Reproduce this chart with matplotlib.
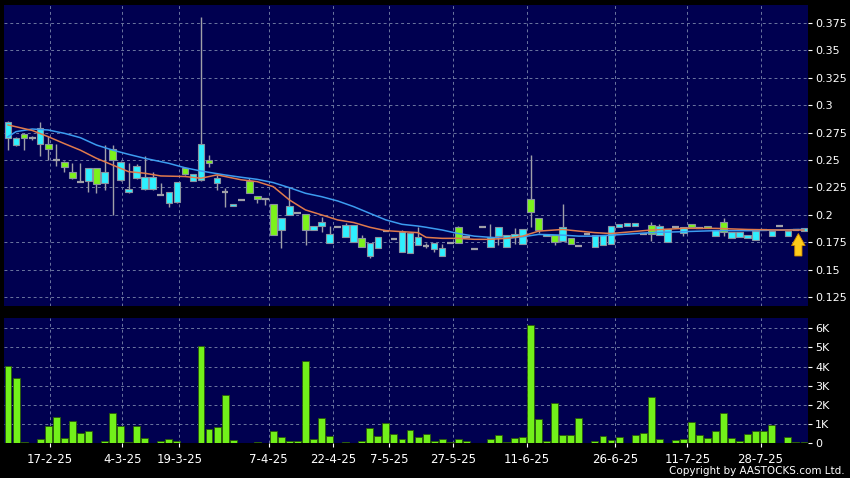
import numpy as np
import matplotlib
matplotlib.use("Agg")
import matplotlib.pyplot as plt
from matplotlib.patches import FancyArrow

# Datos (precio y volumen diario)
opens = [0.285, 0.270, 0.270, 0.270, 0.2795, 0.260, 0.250, 0.244, 0.234, 0.230,
         0.2425, 0.228, 0.239, 0.250, 0.2485, 0.2236, 0.245, 0.2343, 0.2343, 0.218,
         0.221, 0.2296, 0.237, 0.237, 0.2645, 0.2475, 0.2334, 0.2205, 0.2096, 0.2136,
         0.2197, 0.2142, 0.2142, 0.1817, 0.197, 0.2083, 0.2014, 0.1862, 0.1895, 0.1937,
         0.1828, 0.1887, 0.1907, 0.1907, 0.171, 0.1748, 0.1795, 0.1856, 0.1777, 0.1842,
         0.1838, 0.1795, 0.172, 0.1748, 0.1695, 0.174, 0.1747, 0.1795, 0.1692, 0.1887,
         0.1795, 0.1887, 0.1815, 0.183, 0.1867, 0.2023, 0.1863, 0.183, 0.1755, 0.1893,
         0.1733, 0.1717, 0.183, 0.182, 0.1815, 0.1902, 0.1917, 0.1923, 0.1923, 0.183,
         0.1822, 0.1898, 0.1867, 0.1887, 0.1893, 0.1893, 0.1877, 0.1877, 0.1862, 0.184,
         0.1846, 0.1846, 0.1815, 0.1855, 0.186, 0.1855, 0.1902, 0.1855, 0.186, 0.188]
closes = [0.270, 0.264, 0.274, 0.270, 0.2645, 0.2645, 0.250, 0.2485, 0.239, 0.230,
          0.2305, 0.2425, 0.229, 0.260, 0.232, 0.2206, 0.2334, 0.2236, 0.2236, 0.218,
          0.2106, 0.2115, 0.243, 0.2305, 0.232, 0.250, 0.2295, 0.2205, 0.208, 0.2136,
          0.2312, 0.2175, 0.2142, 0.2096, 0.1862, 0.1999, 0.2014, 0.2005, 0.1862, 0.1898,
          0.1745, 0.1887, 0.1795, 0.1755, 0.1789, 0.1625, 0.1695, 0.1856, 0.1777, 0.166,
          0.1656, 0.1725, 0.172, 0.1686, 0.1625, 0.174, 0.1887, 0.1795, 0.1692, 0.1887,
          0.1703, 0.1806, 0.1703, 0.1795, 0.1733, 0.2142, 0.1976, 0.1806, 0.1815, 0.1765,
          0.1791, 0.1717, 0.183, 0.1705, 0.1724, 0.1733, 0.1887, 0.1898, 0.1898, 0.183,
          0.1907, 0.1815, 0.1755, 0.1887, 0.1838, 0.1914, 0.1877, 0.1902, 0.1806, 0.1937,
          0.1789, 0.1794, 0.1789, 0.177, 0.186, 0.1806, 0.1902, 0.1806, 0.186, 0.1855]
highs = [0.286, 0.271, 0.275, 0.272, 0.285, 0.272, 0.265, 0.249, 0.247, 0.247,
         0.243, 0.243, 0.264, 0.264, 0.249, 0.247, 0.246, 0.254, 0.239, 0.229,
         0.221, 0.230, 0.244, 0.237, 0.3805, 0.2546, 0.236, 0.2242, 0.2096, 0.2136,
         0.2334, 0.2175, 0.2142, 0.2096, 0.197, 0.225, 0.2014, 0.2005, 0.1895, 0.1977,
         0.1895, 0.1887, 0.1922, 0.1907, 0.1815, 0.1748, 0.1795, 0.1856, 0.1777, 0.1862,
         0.1838, 0.189, 0.1748, 0.1748, 0.1735, 0.174, 0.1895, 0.1795, 0.1692, 0.1887,
         0.1913, 0.1887, 0.1815, 0.1883, 0.1867, 0.2546, 0.1976, 0.183, 0.1815, 0.2095,
         0.1791, 0.1717, 0.183, 0.182, 0.1815, 0.1902, 0.1917, 0.1923, 0.1923, 0.183,
         0.1935, 0.192, 0.1867, 0.1887, 0.1893, 0.1914, 0.1877, 0.1902, 0.1862, 0.1976,
         0.1846, 0.1846, 0.1815, 0.1855, 0.186, 0.1855, 0.1902, 0.1855, 0.186, 0.188]
lows = [0.259, 0.263, 0.259, 0.268, 0.254, 0.250, 0.245, 0.239, 0.233, 0.230,
        0.221, 0.220, 0.2227, 0.200, 0.231, 0.220, 0.233, 0.223, 0.223, 0.218,
        0.2075, 0.211, 0.236, 0.2305, 0.231, 0.2439, 0.2227, 0.2075, 0.208, 0.2136,
        0.2197, 0.211, 0.209, 0.1817, 0.1695, 0.1999, 0.2014, 0.1725, 0.1862, 0.1846,
        0.1745, 0.1887, 0.1795, 0.1755, 0.171, 0.1604, 0.1695, 0.1856, 0.1777, 0.166,
        0.1656, 0.1725, 0.170, 0.1665, 0.1625, 0.174, 0.1747, 0.1795, 0.1692, 0.1887,
        0.1703, 0.1727, 0.1703, 0.1733, 0.1733, 0.189, 0.1835, 0.1806, 0.1722, 0.1765,
        0.1733, 0.1717, 0.183, 0.1705, 0.1724, 0.1733, 0.1887, 0.1898, 0.1898, 0.183,
        0.1762, 0.1815, 0.1755, 0.1887, 0.181, 0.1893, 0.1877, 0.1877, 0.1806, 0.181,
        0.1789, 0.1794, 0.1789, 0.177, 0.186, 0.1806, 0.1902, 0.1806, 0.186, 0.1855]
volumen_k = [4.05, 3.39, 0.05, 0.0, 0.2, 0.92, 1.36, 0.26, 1.17, 0.56,
             0.64, 0.0, 0.12, 1.58, 0.9, 0.05, 0.9, 0.3, 0.03, 0.1,
             0.23, 0.12, 0.0, 0.0, 5.06, 0.75, 0.87, 2.52, 0.17, 0.0,
             0.0, 0.05, 0.0, 0.66, 0.33, 0.14, 0.13, 4.3, 0.23, 1.3,
             0.38, 0.0, 0.05, 0.0, 0.14, 0.78, 0.4, 1.06, 0.49, 0.23,
             0.7, 0.31, 0.47, 0.12, 0.24, 0.09, 0.23, 0.1, 0.0, 0.0,
             0.24, 0.43, 0.05, 0.26, 0.35, 6.16, 1.25, 0.1, 2.09, 0.43,
             0.43, 1.3, 0.0, 0.12, 0.38, 0.17, 0.33, 0.0, 0.45, 0.54,
             2.4, 0.23, 0.0, 0.16, 0.21, 1.11, 0.43, 0.3, 0.66, 1.57,
             0.28, 0.12, 0.5, 0.64, 0.66, 0.96, 0.03, 0.33, 0.09, 0.09]

ma_corta_x = [0, 3, 5, 7, 9, 11, 13, 15, 17, 19, 22, 24, 26, 29, 31, 33, 35, 37, 39, 41,
              43, 45, 47, 49, 51, 52, 54, 56, 58, 60, 62, 64, 66, 69, 71, 73, 75, 80, 84,
              88, 92, 96, 99]
ma_corta = [0.282, 0.277, 0.2713, 0.265, 0.259, 0.2516, 0.2455, 0.2394, 0.238, 0.2355,
            0.235, 0.2334, 0.2365, 0.232, 0.2303, 0.2257, 0.2136, 0.2045, 0.200, 0.1954,
            0.193, 0.1887, 0.1856, 0.1847, 0.1838, 0.1795, 0.1786, 0.1786, 0.1777, 0.1777,
            0.1786, 0.1806, 0.1852, 0.1867, 0.1852, 0.1838, 0.183, 0.1862, 0.1877,
            0.1877, 0.1867, 0.1862, 0.1862]
ma_larga_x = [0, 1, 3, 5, 7, 9, 11, 13, 15, 17, 20, 22, 24, 25, 27, 29, 31, 33, 35, 37,
              39, 41, 43, 45, 47, 49, 51, 52, 54, 56, 58, 60, 62, 64, 66, 69, 71, 73, 75,
              80, 84, 88, 92, 96, 99]
ma_larga = [0.2713, 0.2759, 0.2783, 0.2774, 0.2744, 0.2704, 0.2637, 0.2591, 0.2552, 0.2516,
            0.247, 0.243, 0.240, 0.2388, 0.2364, 0.2343, 0.2324, 0.2294, 0.2248, 0.2197,
            0.2166, 0.2127, 0.2075, 0.2014, 0.1954, 0.1914, 0.1898, 0.1887, 0.1862, 0.183,
            0.1806, 0.1795, 0.1786, 0.180, 0.1822, 0.1815, 0.1806, 0.1806, 0.1815,
            0.1838, 0.1847, 0.1856, 0.1856, 0.1862, 0.1868]

fechas = ["17-2-25", "4-3-25", "19-3-25", "7-4-25", "22-4-25", "7-5-25",
          "27-5-25", "11-6-25", "26-6-25", "11-7-25", "28-7-25"]
fechas_pos = [5.2, 14.2, 21.3, 32.4, 40.4, 47.4, 55.4, 64.5, 75.5, 84.5, 93.6]

precio_ticks = [0.125, 0.15, 0.175, 0.2, 0.225, 0.25, 0.275, 0.3, 0.325, 0.35, 0.375]
vol_ticks = [0, 1, 2, 3, 4, 5, 6]

FONDO = "#000050"
GRID = "#6c76a0"
CYAN = "#2ef0ff"
VERDE = "#7cf21c"

fig = plt.figure(figsize=(8.5, 4.78), dpi=100, facecolor="black")
ax = fig.add_axes([4 / 850, 1 - 306 / 478, 804 / 850, 301 / 478])
axv = fig.add_axes([4 / 850, 1 - 443.3 / 478, 804 / 850, 125 / 478])

for a in (ax, axv):
    a.set_facecolor(FONDO)
    for s in a.spines.values():
        s.set_visible(False)
    a.set_xlim(-0.5, 99.5)
    a.yaxis.tick_right()
    a.tick_params(axis="both", colors="white", labelcolor="white", labelsize=8,
                  length=3, width=0.8, pad=2)
    for p in fechas_pos:
        a.axvline(p, color=GRID, lw=0.7, dashes=(3, 3), zorder=0)

# Grafico de velas
x = np.arange(len(opens))
for i in x:
    o, c, h, l = opens[i], closes[i], highs[i], lows[i]
    ax.vlines(i, l, h, color="#a0a0a8", lw=1.0, zorder=2)
    if abs(o - c) < 1e-6:
        ax.hlines(o, i - 0.42, i + 0.42, color="#a0a0a8", lw=1.6, zorder=3)
    else:
        col = VERDE if c > o else CYAN
        ax.bar(i, abs(c - o), bottom=min(o, c), width=0.82, color=col,
               edgecolor="#8a94a0", linewidth=0.8, zorder=3)

ax.plot(ma_larga_x, ma_larga, color="#3c9cf0", lw=1.1, zorder=4)
ax.plot(ma_corta_x, ma_corta, color="#e07a4c", lw=1.1, zorder=4)

# flecha amarilla del ultimo precio
ax.add_patch(FancyArrow(98.3, 0.1625, 0, 0.0205, width=0.9, head_width=1.7,
                        head_length=0.011, length_includes_head=True,
                        facecolor="#ffcc1a", edgecolor="#d08a00", lw=0.6, zorder=6))

ax.set_ylim(0.1169, 0.3914)
ax.set_yticks(precio_ticks)
ax.set_yticklabels([f"{v:g}" for v in precio_ticks])
for v in precio_ticks:
    ax.axhline(v, color=GRID, lw=0.7, dashes=(3, 3), zorder=0)
ax.set_xticks([])

# Volumen
axv.bar(x, volumen_k, width=0.86, color="#72f01a", edgecolor="#2a5a08", linewidth=0.6,
        zorder=3)
axv.set_ylim(0, 6.52)
axv.set_yticks(vol_ticks)
axv.set_yticklabels(["0"] + [f"{v}K" for v in vol_ticks[1:]])
for v in vol_ticks[1:]:
    axv.axhline(v, color=GRID, lw=0.7, dashes=(3, 3), zorder=0)
axv.set_xticks(fechas_pos)
axv.set_xticklabels(fechas, fontsize=8.5)
axv.tick_params(axis="x", pad=4)

fig.text(845 / 850, 1 - 471 / 478, "Copyright by AASTOCKS.com Ltd.", color="white",
         fontsize=7.5, ha="right", va="center")

plt.savefig("out.png", dpi=100, facecolor="black")
plt.close()
